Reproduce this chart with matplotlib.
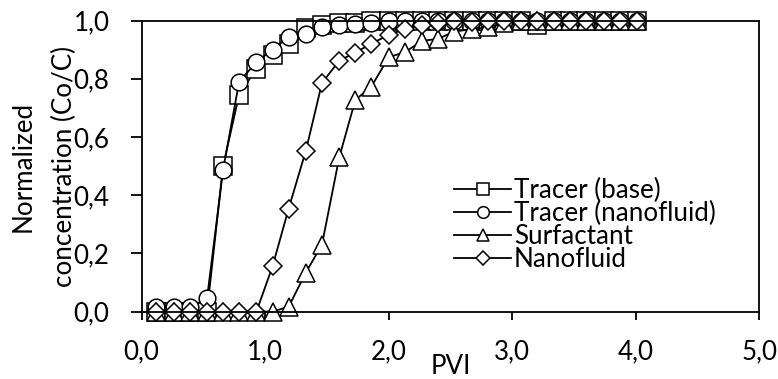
import matplotlib
matplotlib.use("Agg")
import matplotlib.pyplot as plt

plt.rcParams['font.family'] = ['Lato', 'DejaVu Sans']

pvi = [0.12, 0.26, 0.39, 0.53, 0.66, 0.79, 0.93, 1.06, 1.19, 1.33,
       1.46, 1.60, 1.73, 1.86, 2.00, 2.13, 2.27, 2.40, 2.53, 2.67,
       2.80, 2.93, 3.07, 3.20, 3.34, 3.47, 3.60, 3.74, 3.87, 4.01]

tracer_base = [0, 0, 0, 0, 0.50, 0.745, 0.835, 0.883, 0.918, 0.975,
               0.985, 0.99, 0.993, 0.997, 1, 1, 1, 1, 1, 1,
               1, 1, 1, 0.985, 1, 1, 1, 1, 1, 1]
tracer_nano = [0.015, 0.015, 0.015, 0.045, 0.487, 0.79, 0.857, 0.90, 0.943, 0.955,
               0.977, 0.983, 0.988, 0.993, 0.997, 1, 1, 1, 1, 1,
               1, 1, 1, 1, 1, 1, 1, 1, 1, 1]
surfactant = [0, 0, 0, 0, 0, 0, 0, 0, 0.016, 0.134,
              0.23, 0.53, 0.727, 0.773, 0.874, 0.891, 0.93, 0.937, 0.962, 0.97,
              0.977, 0.99, 1, 1, 1, 1, 1, 1, 1, 1]
nanofluid = [0, 0, 0, 0, 0, 0, 0, 0.155, 0.353, 0.553,
             0.785, 0.862, 0.89, 0.92, 0.951, 0.97, 0.985, 0.991, 0.997, 0.995,
             0.997, 1, 1, 1, 1, 1, 1, 1, 1, 1]

labels = ['Tracer (base)', 'Tracer (nanofluid)', 'Surfactant', 'Nanofluid']
xticks = [0, 1, 2, 3, 4, 5]
yticks = [0, 0.2, 0.4, 0.6, 0.8, 1.0]

FS = 18.7
fig = plt.figure(figsize=(7.78, 3.79), dpi=100)
ax = fig.add_axes([0.1819, 0.1781, 0.9762 - 0.1819, 0.9459 - 0.1781])

series = [(tracer_base, 's', 12.5), (tracer_nano, 'o', 12), (surfactant, '^', 12.5), (nanofluid, 'D', 9.5)]
for (ys, mk, ms), lab in zip(series, labels):
    ax.plot(pvi, ys, color='black', lw=1.3, marker=mk, ms=ms, mfc='white',
            mec='black', mew=1.1, label=lab, clip_on=False)

ax.set_xlim(0, 5)
ax.set_ylim(0, 1)
ax.set_xticks(xticks)
ax.set_yticks(yticks)
ax.set_xticklabels([f"{v:.1f}".replace('.', ',') for v in xticks], fontsize=FS)
ax.set_yticklabels([f"{v:.1f}".replace('.', ',') for v in yticks], fontsize=FS)
ax.tick_params(axis='x', direction='out', length=6, width=1.3, pad=14)
ax.tick_params(axis='y', direction='out', length=8, width=1.3, pad=15)
for s in ax.spines.values():
    s.set_linewidth(1.3)

ax.set_xlabel('PVI', fontsize=FS)
ax.xaxis.set_label_coords(0.5, -0.146)
ax.set_ylabel('Normalized\nconcentration (Co/C)', fontsize=FS, linespacing=1.8)
ax.yaxis.set_label_coords(-0.1044, 0.5)

leg = ax.legend(loc='upper left', bbox_to_anchor=(0.506, 0.459), frameon=False,
                fontsize=FS, handlelength=2.2, handletextpad=0.1,
                labelspacing=-0.08, borderpad=0, borderaxespad=0, markerscale=0.7)

fig.savefig('out.png', dpi=100)
